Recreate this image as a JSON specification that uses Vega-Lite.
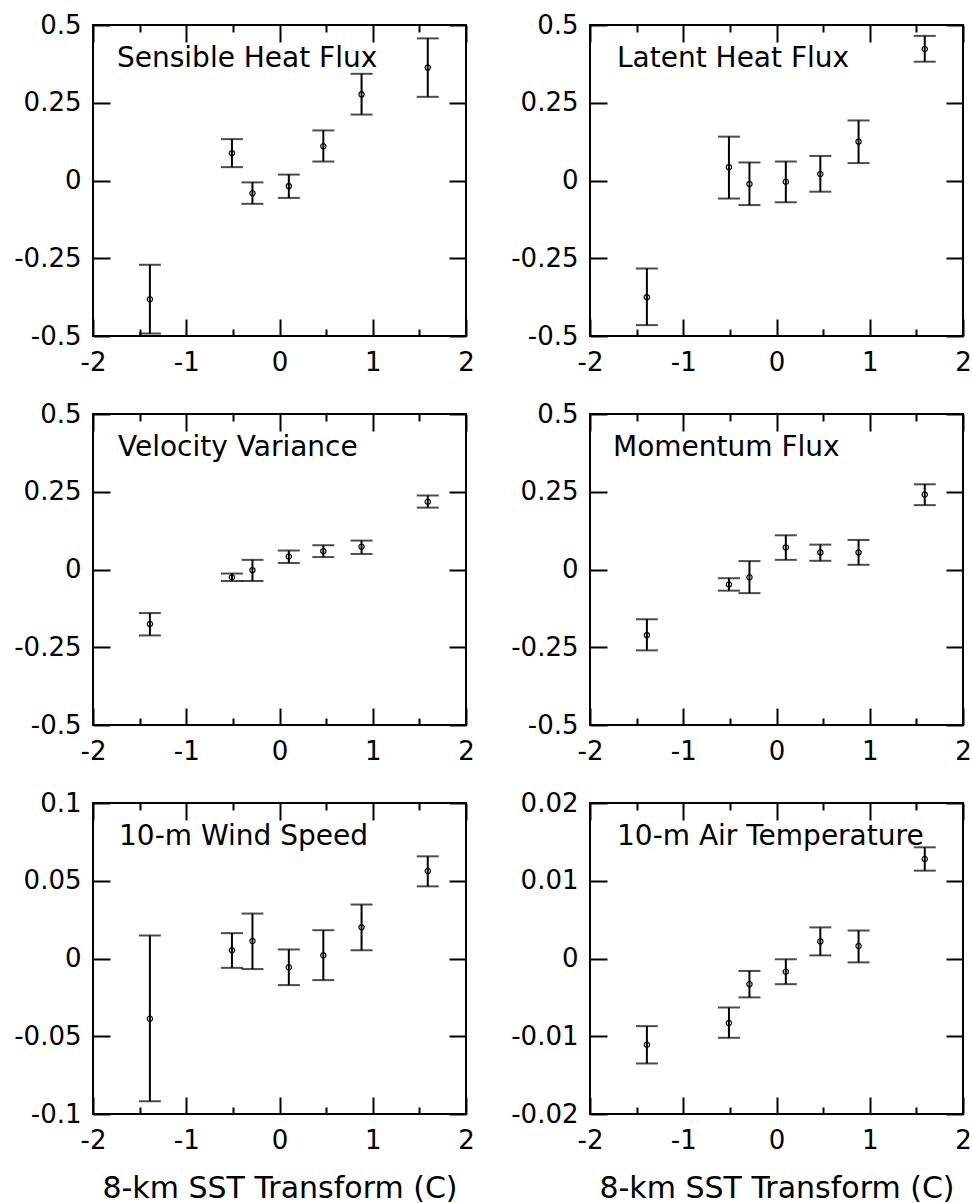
{
  "$schema": "https://vega.github.io/schema/vega-lite/v6.json",
  "padding": {"left": 12, "top": 11, "right": 5, "bottom": 0},
  "background": "white",
  "data": {"values": [
    {"p": "Sensible Heat Flux", "x": -1.39, "v": -0.382, "lo": -0.492, "hi": -0.271},
    {"p": "Sensible Heat Flux", "x": -0.51, "v": 0.088, "lo": 0.043, "hi": 0.133},
    {"p": "Sensible Heat Flux", "x": -0.29, "v": -0.041, "lo": -0.075, "hi": -0.006},
    {"p": "Sensible Heat Flux", "x": 0.1, "v": -0.018, "lo": -0.056, "hi": 0.019},
    {"p": "Sensible Heat Flux", "x": 0.47, "v": 0.110, "lo": 0.061, "hi": 0.161},
    {"p": "Sensible Heat Flux", "x": 0.88, "v": 0.277, "lo": 0.212, "hi": 0.343},
    {"p": "Sensible Heat Flux", "x": 1.59, "v": 0.363, "lo": 0.269, "hi": 0.457},
    {"p": "Latent Heat Flux", "x": -1.39, "v": -0.375, "lo": -0.465, "hi": -0.283},
    {"p": "Latent Heat Flux", "x": -0.51, "v": 0.043, "lo": -0.058, "hi": 0.141},
    {"p": "Latent Heat Flux", "x": -0.29, "v": -0.011, "lo": -0.079, "hi": 0.058},
    {"p": "Latent Heat Flux", "x": 0.1, "v": -0.004, "lo": -0.070, "hi": 0.061},
    {"p": "Latent Heat Flux", "x": 0.47, "v": 0.021, "lo": -0.036, "hi": 0.079},
    {"p": "Latent Heat Flux", "x": 0.88, "v": 0.125, "lo": 0.056, "hi": 0.193},
    {"p": "Latent Heat Flux", "x": 1.59, "v": 0.423, "lo": 0.382, "hi": 0.465},
    {"p": "Velocity Variance", "x": -1.39, "v": -0.175, "lo": -0.212, "hi": -0.140},
    {"p": "Velocity Variance", "x": -0.51, "v": -0.025, "lo": -0.037, "hi": -0.013},
    {"p": "Velocity Variance", "x": -0.29, "v": -0.002, "lo": -0.037, "hi": 0.031},
    {"p": "Velocity Variance", "x": 0.1, "v": 0.042, "lo": 0.021, "hi": 0.061},
    {"p": "Velocity Variance", "x": 0.47, "v": 0.059, "lo": 0.040, "hi": 0.078},
    {"p": "Velocity Variance", "x": 0.88, "v": 0.073, "lo": 0.050, "hi": 0.093},
    {"p": "Velocity Variance", "x": 1.59, "v": 0.218, "lo": 0.199, "hi": 0.238},
    {"p": "Momentum Flux", "x": -1.39, "v": -0.211, "lo": -0.260, "hi": -0.160},
    {"p": "Momentum Flux", "x": -0.51, "v": -0.048, "lo": -0.068, "hi": -0.028},
    {"p": "Momentum Flux", "x": -0.29, "v": -0.025, "lo": -0.076, "hi": 0.027},
    {"p": "Momentum Flux", "x": 0.1, "v": 0.071, "lo": 0.031, "hi": 0.110},
    {"p": "Momentum Flux", "x": 0.47, "v": 0.055, "lo": 0.028, "hi": 0.080},
    {"p": "Momentum Flux", "x": 0.88, "v": 0.055, "lo": 0.015, "hi": 0.095},
    {"p": "Momentum Flux", "x": 1.59, "v": 0.241, "lo": 0.207, "hi": 0.274},
    {"p": "10-m Wind Speed", "x": -1.39, "v": -0.0387, "lo": -0.0918, "hi": 0.0148},
    {"p": "10-m Wind Speed", "x": -0.51, "v": 0.0053, "lo": -0.0060, "hi": 0.0163},
    {"p": "10-m Wind Speed", "x": -0.29, "v": 0.0113, "lo": -0.0068, "hi": 0.0289},
    {"p": "10-m Wind Speed", "x": 0.1, "v": -0.0056, "lo": -0.0171, "hi": 0.0058},
    {"p": "10-m Wind Speed", "x": 0.47, "v": 0.0021, "lo": -0.0139, "hi": 0.0182},
    {"p": "10-m Wind Speed", "x": 0.88, "v": 0.0201, "lo": 0.0053, "hi": 0.0347},
    {"p": "10-m Wind Speed", "x": 1.59, "v": 0.0563, "lo": 0.0464, "hi": 0.0657},
    {"p": "10-m Air Temperature", "x": -1.39, "v": -0.0111, "lo": -0.0135, "hi": -0.0087},
    {"p": "10-m Air Temperature", "x": -0.51, "v": -0.0083, "lo": -0.0102, "hi": -0.0063},
    {"p": "10-m Air Temperature", "x": -0.29, "v": -0.0033, "lo": -0.0050, "hi": -0.0016},
    {"p": "10-m Air Temperature", "x": 0.1, "v": -0.0017, "lo": -0.0033, "hi": -0.0001},
    {"p": "10-m Air Temperature", "x": 0.47, "v": 0.0022, "lo": 0.0004, "hi": 0.0040},
    {"p": "10-m Air Temperature", "x": 0.88, "v": 0.0016, "lo": -0.0005, "hi": 0.0036},
    {"p": "10-m Air Temperature", "x": 1.59, "v": 0.0128, "lo": 0.0113, "hi": 0.0143}
  ]},
  "columns": 2,
  "spacing": {"row": 78, "column": 124},
  "bounds": "flush",
  "concat": [
    {
      "width": 373, "height": 311,
      "title": {"text": "Sensible Heat Flux", "dx": 24, "offset": -61},
      "transform": [{"filter": "datum.p === 'Sensible Heat Flux'"}],
      "layer": [
        {"mark": {"type": "rule", "color": "black", "strokeWidth": 2},
         "encoding": {
           "x": {"field": "x", "type": "quantitative", "scale": {"domain": [-2, 2]}, "axis": {"orient": "bottom", "values": [-2, -1, 0, 1, 2], "ticks": false, "title": null, "labelExpr": "'' + datum.value"}},
           "y": {"field": "lo", "type": "quantitative", "scale": {"domain": [-0.5, 0.5]}, "axis": {"orient": "left", "values": [-0.5, -0.25, 0, 0.25, 0.5], "ticks": false, "title": null, "labelExpr": "'' + datum.value"}},
           "y2": {"field": "hi"}}},
        {"mark": {"type": "tick", "orient": "horizontal", "size": 22, "thickness": 2, "color": "black"},
         "encoding": {
           "x": {"field": "x", "type": "quantitative", "axis": {"orient": "bottom", "values": [-2, -1.5, -1, -0.5, 0, 0.5, 1, 1.5, 2], "labels": false, "title": null, "tickSize": {"condition": {"test": "datum.value % 1 === 0", "value": -17}, "value": -7}}},
           "y": {"field": "lo", "type": "quantitative", "axis": {"orient": "left", "values": [-0.5, -0.25, 0, 0.25, 0.5], "labels": false, "title": null, "tickSize": -17}}}},
        {"mark": {"type": "tick", "orient": "horizontal", "size": 22, "thickness": 2, "color": "black"},
         "encoding": {
           "x": {"field": "x", "type": "quantitative", "axis": {"orient": "top", "values": [-2, -1.5, -1, -0.5, 0, 0.5, 1, 1.5, 2], "labels": false, "title": null, "tickSize": {"condition": {"test": "datum.value % 1 === 0", "value": -17}, "value": -7}}},
           "y": {"field": "hi", "type": "quantitative", "axis": {"orient": "right", "values": [-0.5, -0.25, 0, 0.25, 0.5], "labels": false, "title": null, "tickSize": -17}}}},
        {"mark": {"type": "point", "shape": "circle", "size": 28, "filled": false, "strokeWidth": 1.2, "color": "black", "opacity": 1},
         "encoding": {
           "x": {"field": "x", "type": "quantitative", "axis": null},
           "y": {"field": "v", "type": "quantitative", "axis": null}}}
      ],
      "resolve": {"axis": {"x": "independent", "y": "independent"}}
    },
    {
      "width": 373, "height": 311,
      "title": {"text": "Latent Heat Flux", "dx": 27, "offset": -61},
      "transform": [{"filter": "datum.p === 'Latent Heat Flux'"}],
      "layer": [
        {"mark": {"type": "rule", "color": "black", "strokeWidth": 2},
         "encoding": {
           "x": {"field": "x", "type": "quantitative", "scale": {"domain": [-2, 2]}, "axis": {"orient": "bottom", "values": [-2, -1, 0, 1, 2], "ticks": false, "title": null, "labelExpr": "'' + datum.value"}},
           "y": {"field": "lo", "type": "quantitative", "scale": {"domain": [-0.5, 0.5]}, "axis": {"orient": "left", "values": [-0.5, -0.25, 0, 0.25, 0.5], "ticks": false, "title": null, "labelExpr": "'' + datum.value"}},
           "y2": {"field": "hi"}}},
        {"mark": {"type": "tick", "orient": "horizontal", "size": 22, "thickness": 2, "color": "black"},
         "encoding": {
           "x": {"field": "x", "type": "quantitative", "axis": {"orient": "bottom", "values": [-2, -1.5, -1, -0.5, 0, 0.5, 1, 1.5, 2], "labels": false, "title": null, "tickSize": {"condition": {"test": "datum.value % 1 === 0", "value": -17}, "value": -7}}},
           "y": {"field": "lo", "type": "quantitative", "axis": {"orient": "left", "values": [-0.5, -0.25, 0, 0.25, 0.5], "labels": false, "title": null, "tickSize": -17}}}},
        {"mark": {"type": "tick", "orient": "horizontal", "size": 22, "thickness": 2, "color": "black"},
         "encoding": {
           "x": {"field": "x", "type": "quantitative", "axis": {"orient": "top", "values": [-2, -1.5, -1, -0.5, 0, 0.5, 1, 1.5, 2], "labels": false, "title": null, "tickSize": {"condition": {"test": "datum.value % 1 === 0", "value": -17}, "value": -7}}},
           "y": {"field": "hi", "type": "quantitative", "axis": {"orient": "right", "values": [-0.5, -0.25, 0, 0.25, 0.5], "labels": false, "title": null, "tickSize": -17}}}},
        {"mark": {"type": "point", "shape": "circle", "size": 28, "filled": false, "strokeWidth": 1.2, "color": "black", "opacity": 1},
         "encoding": {
           "x": {"field": "x", "type": "quantitative", "axis": null},
           "y": {"field": "v", "type": "quantitative", "axis": null}}}
      ],
      "resolve": {"axis": {"x": "independent", "y": "independent"}}
    },
    {
      "width": 373, "height": 311,
      "title": {"text": "Velocity Variance", "dx": 25, "offset": -61},
      "transform": [{"filter": "datum.p === 'Velocity Variance'"}],
      "layer": [
        {"mark": {"type": "rule", "color": "black", "strokeWidth": 2},
         "encoding": {
           "x": {"field": "x", "type": "quantitative", "scale": {"domain": [-2, 2]}, "axis": {"orient": "bottom", "values": [-2, -1, 0, 1, 2], "ticks": false, "title": null, "labelExpr": "'' + datum.value"}},
           "y": {"field": "lo", "type": "quantitative", "scale": {"domain": [-0.5, 0.5]}, "axis": {"orient": "left", "values": [-0.5, -0.25, 0, 0.25, 0.5], "ticks": false, "title": null, "labelExpr": "'' + datum.value"}},
           "y2": {"field": "hi"}}},
        {"mark": {"type": "tick", "orient": "horizontal", "size": 22, "thickness": 2, "color": "black"},
         "encoding": {
           "x": {"field": "x", "type": "quantitative", "axis": {"orient": "bottom", "values": [-2, -1.5, -1, -0.5, 0, 0.5, 1, 1.5, 2], "labels": false, "title": null, "tickSize": {"condition": {"test": "datum.value % 1 === 0", "value": -17}, "value": -7}}},
           "y": {"field": "lo", "type": "quantitative", "axis": {"orient": "left", "values": [-0.5, -0.25, 0, 0.25, 0.5], "labels": false, "title": null, "tickSize": -17}}}},
        {"mark": {"type": "tick", "orient": "horizontal", "size": 22, "thickness": 2, "color": "black"},
         "encoding": {
           "x": {"field": "x", "type": "quantitative", "axis": {"orient": "top", "values": [-2, -1.5, -1, -0.5, 0, 0.5, 1, 1.5, 2], "labels": false, "title": null, "tickSize": {"condition": {"test": "datum.value % 1 === 0", "value": -17}, "value": -7}}},
           "y": {"field": "hi", "type": "quantitative", "axis": {"orient": "right", "values": [-0.5, -0.25, 0, 0.25, 0.5], "labels": false, "title": null, "tickSize": -17}}}},
        {"mark": {"type": "point", "shape": "circle", "size": 28, "filled": false, "strokeWidth": 1.2, "color": "black", "opacity": 1},
         "encoding": {
           "x": {"field": "x", "type": "quantitative", "axis": null},
           "y": {"field": "v", "type": "quantitative", "axis": null}}}
      ],
      "resolve": {"axis": {"x": "independent", "y": "independent"}}
    },
    {
      "width": 373, "height": 311,
      "title": {"text": "Momentum Flux", "dx": 23, "offset": -61},
      "transform": [{"filter": "datum.p === 'Momentum Flux'"}],
      "layer": [
        {"mark": {"type": "rule", "color": "black", "strokeWidth": 2},
         "encoding": {
           "x": {"field": "x", "type": "quantitative", "scale": {"domain": [-2, 2]}, "axis": {"orient": "bottom", "values": [-2, -1, 0, 1, 2], "ticks": false, "title": null, "labelExpr": "'' + datum.value"}},
           "y": {"field": "lo", "type": "quantitative", "scale": {"domain": [-0.5, 0.5]}, "axis": {"orient": "left", "values": [-0.5, -0.25, 0, 0.25, 0.5], "ticks": false, "title": null, "labelExpr": "'' + datum.value"}},
           "y2": {"field": "hi"}}},
        {"mark": {"type": "tick", "orient": "horizontal", "size": 22, "thickness": 2, "color": "black"},
         "encoding": {
           "x": {"field": "x", "type": "quantitative", "axis": {"orient": "bottom", "values": [-2, -1.5, -1, -0.5, 0, 0.5, 1, 1.5, 2], "labels": false, "title": null, "tickSize": {"condition": {"test": "datum.value % 1 === 0", "value": -17}, "value": -7}}},
           "y": {"field": "lo", "type": "quantitative", "axis": {"orient": "left", "values": [-0.5, -0.25, 0, 0.25, 0.5], "labels": false, "title": null, "tickSize": -17}}}},
        {"mark": {"type": "tick", "orient": "horizontal", "size": 22, "thickness": 2, "color": "black"},
         "encoding": {
           "x": {"field": "x", "type": "quantitative", "axis": {"orient": "top", "values": [-2, -1.5, -1, -0.5, 0, 0.5, 1, 1.5, 2], "labels": false, "title": null, "tickSize": {"condition": {"test": "datum.value % 1 === 0", "value": -17}, "value": -7}}},
           "y": {"field": "hi", "type": "quantitative", "axis": {"orient": "right", "values": [-0.5, -0.25, 0, 0.25, 0.5], "labels": false, "title": null, "tickSize": -17}}}},
        {"mark": {"type": "point", "shape": "circle", "size": 28, "filled": false, "strokeWidth": 1.2, "color": "black", "opacity": 1},
         "encoding": {
           "x": {"field": "x", "type": "quantitative", "axis": null},
           "y": {"field": "v", "type": "quantitative", "axis": null}}}
      ],
      "resolve": {"axis": {"x": "independent", "y": "independent"}}
    },
    {
      "width": 373, "height": 311,
      "title": {"text": "10-m Wind Speed", "dx": 26, "offset": -61},
      "transform": [{"filter": "datum.p === '10-m Wind Speed'"}],
      "layer": [
        {"mark": {"type": "rule", "color": "black", "strokeWidth": 2},
         "encoding": {
           "x": {"field": "x", "type": "quantitative", "scale": {"domain": [-2, 2]}, "axis": {"orient": "bottom", "values": [-2, -1, 0, 1, 2], "ticks": false, "title": "8-km SST Transform (C)", "labelExpr": "'' + datum.value"}},
           "y": {"field": "lo", "type": "quantitative", "scale": {"domain": [-0.1, 0.1]}, "axis": {"orient": "left", "values": [-0.1, -0.05, 0, 0.05, 0.1], "ticks": false, "title": null, "labelExpr": "'' + datum.value"}},
           "y2": {"field": "hi"}}},
        {"mark": {"type": "tick", "orient": "horizontal", "size": 22, "thickness": 2, "color": "black"},
         "encoding": {
           "x": {"field": "x", "type": "quantitative", "axis": {"orient": "bottom", "values": [-2, -1.5, -1, -0.5, 0, 0.5, 1, 1.5, 2], "labels": false, "title": null, "tickSize": {"condition": {"test": "datum.value % 1 === 0", "value": -17}, "value": -7}}},
           "y": {"field": "lo", "type": "quantitative", "axis": {"orient": "left", "values": [-0.1, -0.05, 0, 0.05, 0.1], "labels": false, "title": null, "tickSize": -17}}}},
        {"mark": {"type": "tick", "orient": "horizontal", "size": 22, "thickness": 2, "color": "black"},
         "encoding": {
           "x": {"field": "x", "type": "quantitative", "axis": {"orient": "top", "values": [-2, -1.5, -1, -0.5, 0, 0.5, 1, 1.5, 2], "labels": false, "title": null, "tickSize": {"condition": {"test": "datum.value % 1 === 0", "value": -17}, "value": -7}}},
           "y": {"field": "hi", "type": "quantitative", "axis": {"orient": "right", "values": [-0.1, -0.05, 0, 0.05, 0.1], "labels": false, "title": null, "tickSize": -17}}}},
        {"mark": {"type": "point", "shape": "circle", "size": 28, "filled": false, "strokeWidth": 1.2, "color": "black", "opacity": 1},
         "encoding": {
           "x": {"field": "x", "type": "quantitative", "axis": null},
           "y": {"field": "v", "type": "quantitative", "axis": null}}}
      ],
      "resolve": {"axis": {"x": "independent", "y": "independent"}}
    },
    {
      "width": 373, "height": 311,
      "title": {"text": "10-m Air Temperature", "dx": 27, "offset": -61},
      "transform": [{"filter": "datum.p === '10-m Air Temperature'"}],
      "layer": [
        {"mark": {"type": "rule", "color": "black", "strokeWidth": 2},
         "encoding": {
           "x": {"field": "x", "type": "quantitative", "scale": {"domain": [-2, 2]}, "axis": {"orient": "bottom", "values": [-2, -1, 0, 1, 2], "ticks": false, "title": "8-km SST Transform (C)", "labelExpr": "'' + datum.value"}},
           "y": {"field": "lo", "type": "quantitative", "scale": {"domain": [-0.02, 0.02]}, "axis": {"orient": "left", "values": [-0.02, -0.01, 0, 0.01, 0.02], "ticks": false, "title": null, "labelExpr": "'' + datum.value"}},
           "y2": {"field": "hi"}}},
        {"mark": {"type": "tick", "orient": "horizontal", "size": 22, "thickness": 2, "color": "black"},
         "encoding": {
           "x": {"field": "x", "type": "quantitative", "axis": {"orient": "bottom", "values": [-2, -1.5, -1, -0.5, 0, 0.5, 1, 1.5, 2], "labels": false, "title": null, "tickSize": {"condition": {"test": "datum.value % 1 === 0", "value": -17}, "value": -7}}},
           "y": {"field": "lo", "type": "quantitative", "axis": {"orient": "left", "values": [-0.02, -0.01, 0, 0.01, 0.02], "labels": false, "title": null, "tickSize": -17}}}},
        {"mark": {"type": "tick", "orient": "horizontal", "size": 22, "thickness": 2, "color": "black"},
         "encoding": {
           "x": {"field": "x", "type": "quantitative", "axis": {"orient": "top", "values": [-2, -1.5, -1, -0.5, 0, 0.5, 1, 1.5, 2], "labels": false, "title": null, "tickSize": {"condition": {"test": "datum.value % 1 === 0", "value": -17}, "value": -7}}},
           "y": {"field": "hi", "type": "quantitative", "axis": {"orient": "right", "values": [-0.02, -0.01, 0, 0.01, 0.02], "labels": false, "title": null, "tickSize": -17}}}},
        {"mark": {"type": "point", "shape": "circle", "size": 28, "filled": false, "strokeWidth": 1.2, "color": "black", "opacity": 1},
         "encoding": {
           "x": {"field": "x", "type": "quantitative", "axis": null},
           "y": {"field": "v", "type": "quantitative", "axis": null}}}
      ],
      "resolve": {"axis": {"x": "independent", "y": "independent"}}
    }
  ],
  "config": {
    "view": {"stroke": "black", "strokeWidth": 2},
    "axis": {"domain": false, "grid": false, "labelFont": "DejaVu Sans", "labelFontSize": 26, "labelColor": "black", "tickColor": "black", "tickWidth": 2, "labelFlush": false, "labelPadding": 12, "labelOverlap": false, "titleFont": "DejaVu Sans", "titleFontSize": 30, "titleFontWeight": "normal", "titleColor": "black", "titlePadding": 20},
    "axisX": {"labelPadding": 13},
    "title": {"anchor": "start", "frame": "group", "font": "DejaVu Sans", "fontSize": 28, "fontWeight": "normal", "color": "black", "baseline": "alphabetic"}
  }
}
